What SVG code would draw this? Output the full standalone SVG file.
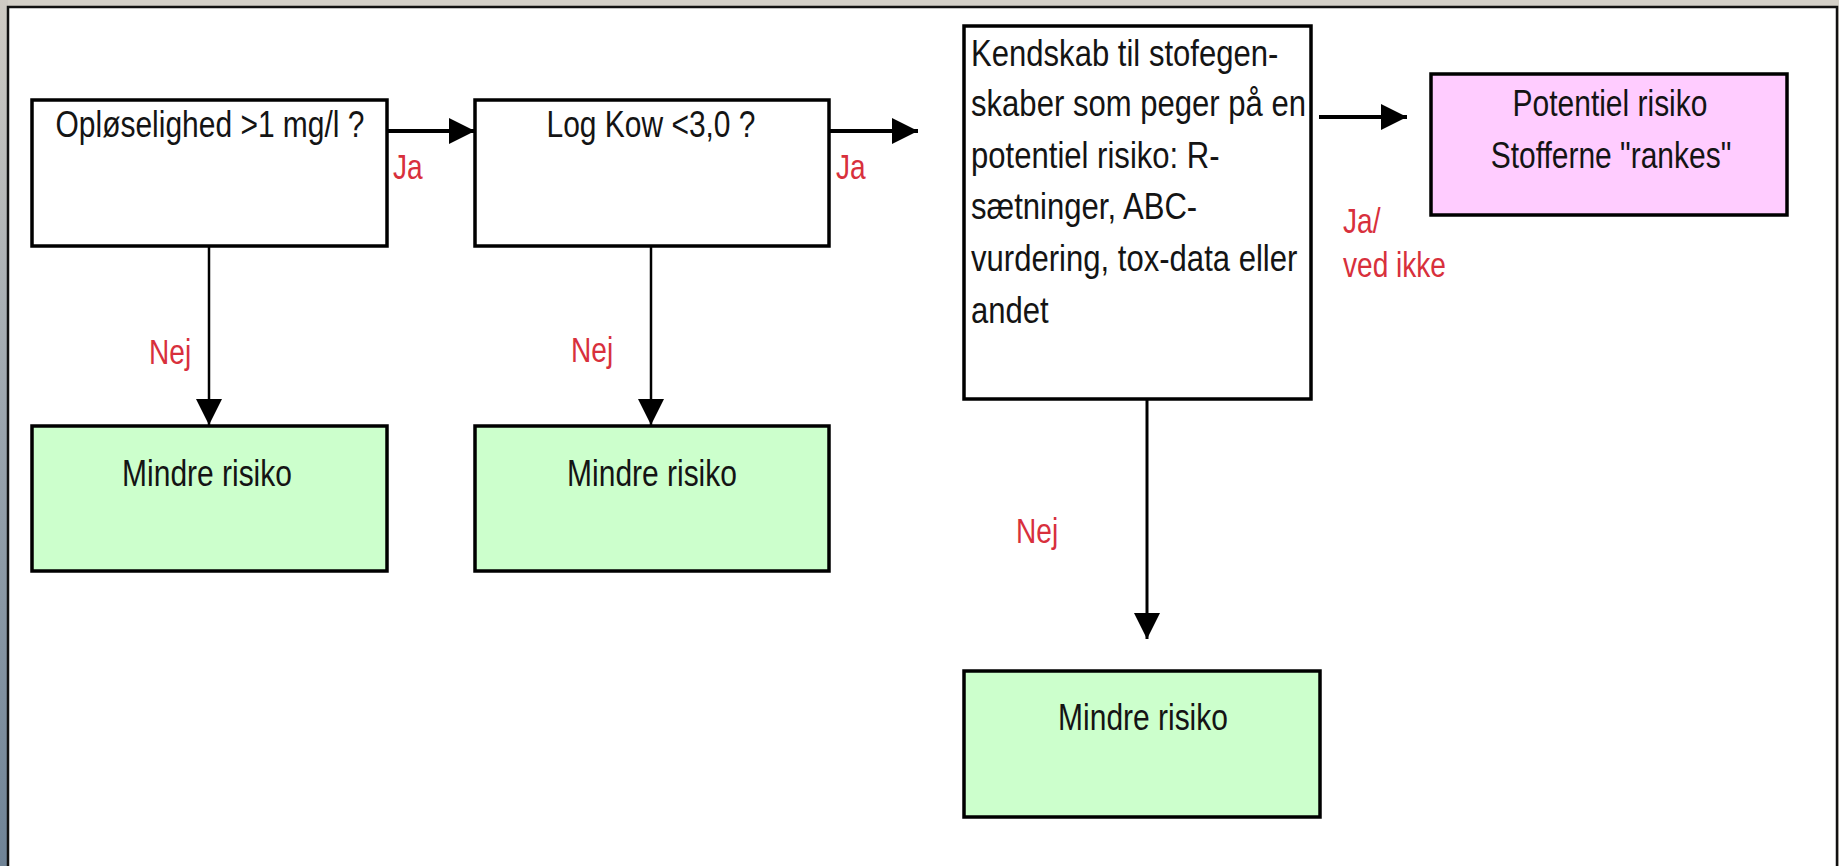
<svg xmlns="http://www.w3.org/2000/svg" width="1839" height="866" viewBox="0 0 1839 866">
<style>
.box{stroke:#000;stroke-width:3.5}
.w{fill:#fff}
.g{fill:#ccffcc}
.p{fill:#ffccff}
.t{font-family:"Liberation Sans",Arial,sans-serif;font-size:37px;fill:#141414}
.c{text-anchor:middle}
.r{font-family:"Liberation Sans",Arial,sans-serif;font-size:36px;fill:#d8303c}
.ln{stroke:#000;fill:none}
</style>
<defs>
<linearGradient id="side" x1="0" y1="0" x2="0" y2="1">
<stop offset="0" stop-color="#cfcbc4"/>
<stop offset="0.5" stop-color="#9aa4ad"/>
<stop offset="1" stop-color="#6f8396"/>
</linearGradient>
<marker id="ah" viewBox="0 0 10 10" refX="10" refY="5" markerWidth="26" markerHeight="26" markerUnits="userSpaceOnUse" orient="auto">
<path d="M0,0 L10,5 L0,10 Z" fill="#000"/>
</marker>
</defs>
<rect x="0" y="0" width="1839" height="866" fill="#d4d0c8"/>
<rect x="0" y="0" width="8" height="866" fill="url(#side)"/>
<rect x="8" y="7" width="1829" height="870" fill="#fff" stroke="#111" stroke-width="2.5"/>

<g id="connectors">
<line class="ln" x1="387" y1="131" x2="475" y2="131" stroke-width="4" marker-end="url(#ah)"/>
<line class="ln" x1="829" y1="131" x2="918" y2="131" stroke-width="4" marker-end="url(#ah)"/>
<line class="ln" x1="1319" y1="117" x2="1407" y2="117" stroke-width="4" marker-end="url(#ah)"/>
<line class="ln" x1="209" y1="246" x2="209" y2="425" stroke-width="2.5" marker-end="url(#ah)"/>
<line class="ln" x1="651" y1="246" x2="651" y2="425" stroke-width="2.5" marker-end="url(#ah)"/>
<line class="ln" x1="1147" y1="399" x2="1147" y2="639" stroke-width="3" marker-end="url(#ah)"/>
<text class="r" transform="translate(393,179) scale(0.78,1)">Ja</text>
<text class="r" transform="translate(836,179) scale(0.78,1)">Ja</text>
<text class="r" transform="translate(149,364) scale(0.78,1)">Nej</text>
<text class="r" transform="translate(571,362) scale(0.78,1)">Nej</text>
<text class="r" transform="translate(1016,543) scale(0.78,1)">Nej</text>
<text class="r" transform="translate(1343,233) scale(0.78,1)">Ja/</text>
<text class="r" transform="translate(1343,277) scale(0.78,1)">ved ikke</text>
</g>

<g id="q1">
<rect class="box w" x="32" y="100" width="355" height="146"/>
<text class="t c" transform="translate(210,137) scale(0.81,1)">Opløselighed &gt;1 mg/l ?</text>
</g>
<g id="q2">
<rect class="box w" x="475" y="100" width="354" height="146"/>
<text class="t c" transform="translate(651,137) scale(0.81,1)">Log Kow &lt;3,0 ?</text>
</g>
<g id="q3">
<rect class="box w" x="964" y="26" width="347" height="373"/>
<text class="t" transform="translate(971,66) scale(0.84,1)">Kendskab til stofegen-</text>
<text class="t" transform="translate(971,116) scale(0.84,1)">skaber som peger på en</text>
<text class="t" transform="translate(971,168) scale(0.84,1)">potentiel risiko: R-</text>
<text class="t" transform="translate(971,219) scale(0.84,1)">sætninger, ABC-</text>
<text class="t" transform="translate(971,271) scale(0.84,1)">vurdering, tox-data eller</text>
<text class="t" transform="translate(971,323) scale(0.84,1)">andet</text>
</g>
<g id="risk">
<rect class="box p" x="1431" y="74" width="356" height="141"/>
<text class="t c" transform="translate(1610,116) scale(0.81,1)">Potentiel risiko</text>
<text class="t c" transform="translate(1611,168) scale(0.81,1)">Stofferne "rankes"</text>
</g>
<g id="low1">
<rect class="box g" x="32" y="426" width="355" height="145"/>
<text class="t c" transform="translate(207,486) scale(0.81,1)">Mindre risiko</text>
</g>
<g id="low2">
<rect class="box g" x="475" y="426" width="354" height="145"/>
<text class="t c" transform="translate(652,486) scale(0.81,1)">Mindre risiko</text>
</g>
<g id="low3">
<rect class="box g" x="964" y="671" width="356" height="146"/>
<text class="t c" transform="translate(1143,730) scale(0.81,1)">Mindre risiko</text>
</g>
</svg>
